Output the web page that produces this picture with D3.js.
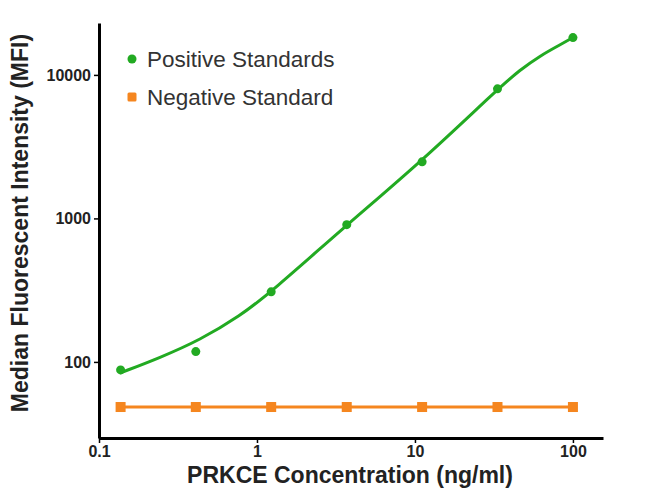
<!DOCTYPE html>
<html>
<head>
<meta charset="utf-8">
<script src="https://cdn.jsdelivr.net/npm/d3@7"></script>
<style>
  html, body { margin: 0; padding: 0; background: #fff; }
  svg { display: block; font-family: "Liberation Sans", Arial, sans-serif; }
</style>
</head>
<body>
<svg id="chart" width="650" height="502"></svg>
<script>
// ---- data ----
const concentrations = [0.137, 0.41, 1.23, 3.7, 11.1, 33.3, 100];
const positiveValues = [88, 118, 308, 905, 2480, 8000, 18200];
const negativeValues = [48.5, 48.5, 48.5, 48.5, 48.5, 48.5, 48.5];
// fitted standard curve
const fitConc = [0.137, 0.243, 0.435, 0.78, 1.23, 3.72, 11.2, 33.5, 46.2, 61.8, 82.7, 100];
const fitMFI  = [84, 107, 142, 209, 307, 905, 2540, 7980, 10830, 13560, 16180, 18200];
const xTicks = [0.1, 1, 10, 100];
const yTicks = [100, 1000, 10000];
const seriesNames = ["Positive Standards", "Negative Standard"];
const xTitle = "PRKCE Concentration (ng/ml)";
const yTitle = "Median Fluorescent Intensity (MFI)";

const green = "#22aa22";
const orange = "#f5861f";

const svg = d3.select("#chart");

const x = d3.scaleLog().domain([0.1, 155]).range([99, 603]);
const y = d3.scaleLog().domain([29.5, 23000]).range([438, 23]);

// negative line
const line = d3.line().x(d => x(d[0])).y(d => y(d[1]));
const negData = concentrations.map((c, i) => [c, negativeValues[i]]);
svg.append("path").datum(negData)
  .attr("d", line)
  .attr("fill", "none").attr("stroke", orange).attr("stroke-width", 3);
svg.selectAll("rect.neg").data(negData).enter().append("rect")
  .attr("class", "neg")
  .attr("x", d => x(d[0]) - 5).attr("y", d => y(d[1]) - 5)
  .attr("width", 10).attr("height", 10)
  .attr("fill", orange);

// fitted curve
const fitData = fitConc.map((c, i) => [c, fitMFI[i]]);
const curveLine = d3.line().x(d => x(d[0])).y(d => y(d[1])).curve(d3.curveBasis);
svg.append("path").datum(fitData)
  .attr("d", curveLine)
  .attr("fill", "none").attr("stroke", green).attr("stroke-width", 3)
  .attr("stroke-linecap", "round");

// positive points
const posData = concentrations.map((c, i) => [c, positiveValues[i]]);
svg.selectAll("circle.pos").data(posData).enter().append("circle")
  .attr("class", "pos")
  .attr("cx", d => x(d[0])).attr("cy", d => y(d[1]))
  .attr("r", 4.5)
  .attr("fill", green);

// axes
const xAxis = d3.axisBottom(x).tickValues(xTicks).tickFormat(d => String(d))
  .tickSize(5).tickSizeOuter(0).tickPadding(3);
const yAxis = d3.axisLeft(y).tickValues(yTicks).tickFormat(d => String(d))
  .tickSize(5).tickSizeOuter(0).tickPadding(3);

const gx = svg.append("g").attr("transform", "translate(0,438)").call(xAxis);
const gy = svg.append("g").attr("transform", "translate(99,0)").call(yAxis);
[gx, gy].forEach(g => {
  g.select(".domain").attr("stroke", "#000").attr("stroke-width", 3);
  g.selectAll(".tick line").attr("stroke", "#000").attr("stroke-width", 1.5);
  g.selectAll(".tick text")
    .attr("fill", "#222")
    .style("font-size", "16px")
    .style("font-weight", "bold")
    .style("font-family", "'Liberation Sans', Arial, sans-serif");
});

// axis titles
svg.append("text")
  .attr("x", 350).attr("y", 483)
  .attr("text-anchor", "middle")
  .style("font-size", "23px").style("font-weight", "bold")
  .attr("fill", "#222")
  .text(xTitle);
svg.append("text")
  .attr("transform", "translate(28,223) rotate(-90)")
  .attr("text-anchor", "middle")
  .style("font-size", "23px").style("font-weight", "bold")
  .attr("fill", "#222")
  .text(yTitle);

// legend
const legend = svg.append("g");
legend.append("circle").attr("cx", 132).attr("cy", 59).attr("r", 4.5).attr("fill", green);
legend.append("rect").attr("x", 127.5).attr("y", 92.5).attr("width", 9).attr("height", 9)
  .attr("rx", 1.5).attr("fill", orange);
legend.selectAll("text.leg").data(seriesNames).enter().append("text")
  .attr("class", "leg")
  .attr("x", 147)
  .attr("y", (d, i) => 67 + i * 38)
  .style("font-size", "22.5px")
  .attr("fill", "#333")
  .text(d => d);
</script>
</body>
</html>
